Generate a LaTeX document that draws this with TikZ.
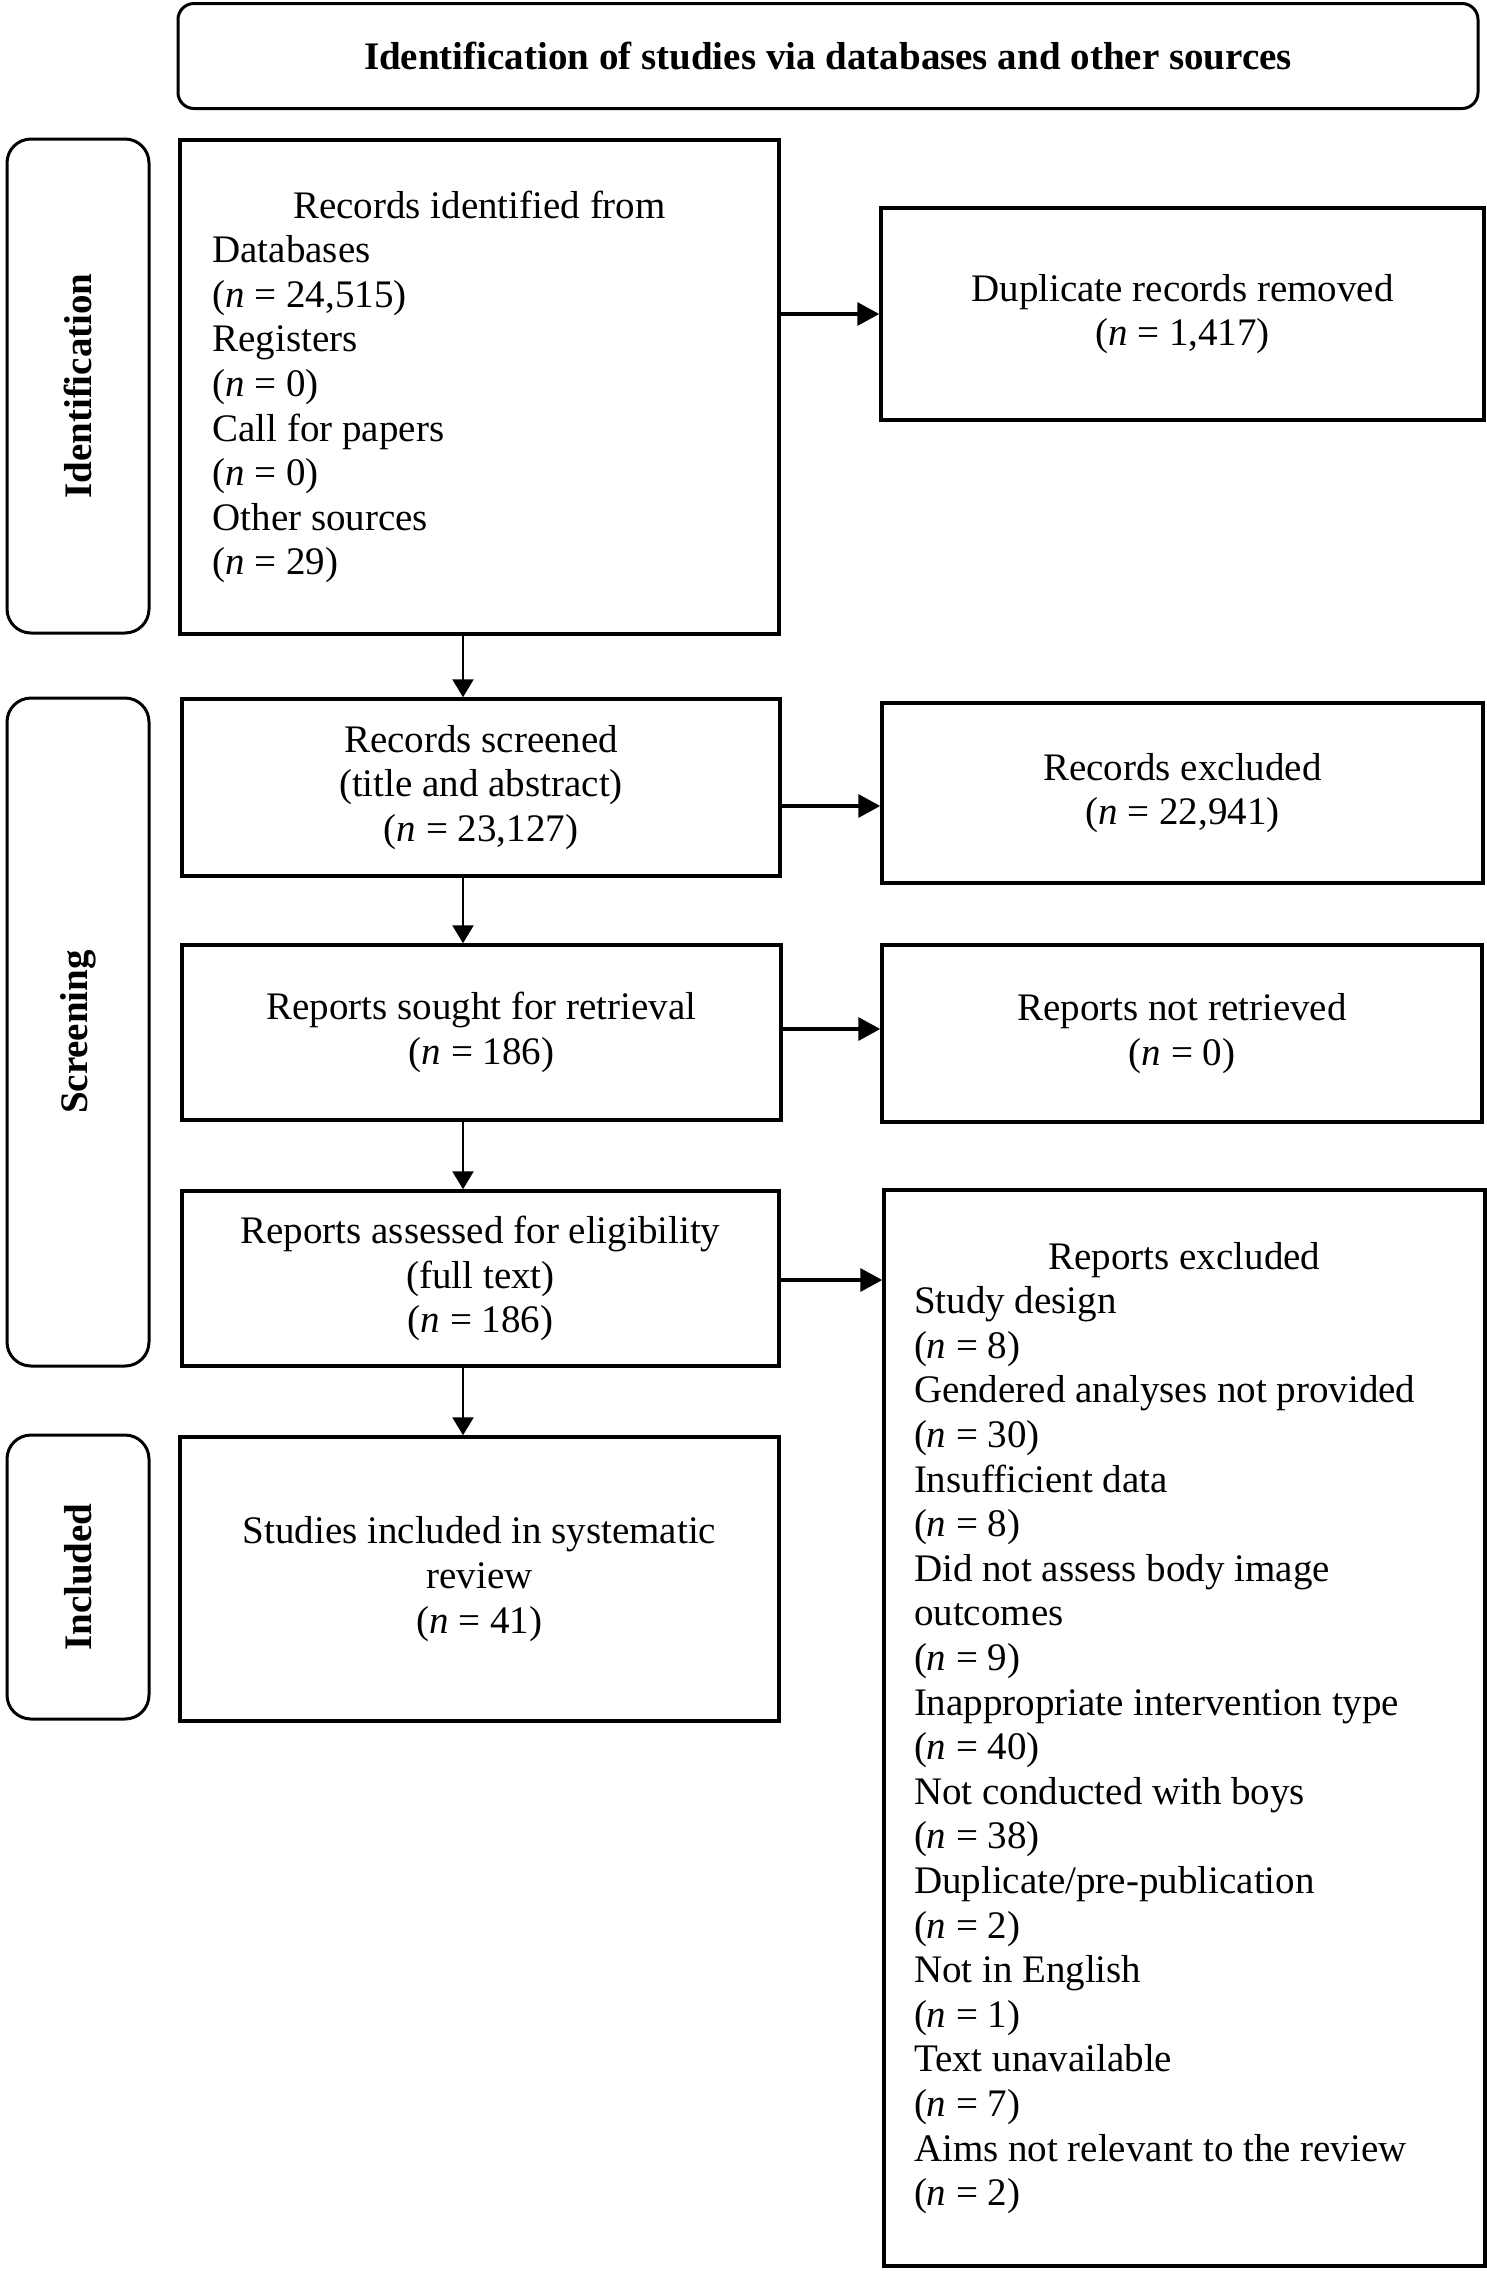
\documentclass[tikz,border=0pt]{standalone}
\usepackage{fontspec}
\setmainfont{Liberation Serif}
\usetikzlibrary{arrows.meta}
\newcommand{\fsz}{\fontsize{19.5pt}{22.3pt}\selectfont}
\newcommand{\nn}[1]{(\textit{n} = #1)}
\tikzset{
  box/.style={draw, line width=1.75pt, inner sep=0pt, align=center, font=\fsz},
  lab/.style={draw, line width=1.5pt, rounded corners=12pt, inner sep=0pt, minimum width=71pt},
  labtext/.style={rotate=90, font=\fsz\bfseries},
  harr/.style={-{Triangle[length=11pt,width=11.5pt]}, line width=1.8pt},
  varr/.style={-{Triangle[length=9pt,width=10.5pt]}, line width=1.2pt},
}
\begin{document}
\begin{tikzpicture}[x=0.5pt,y=-0.5pt]
\useasboundingbox (0,0) rectangle (1487,2272);
% title
\node[draw, line width=1.5pt, rounded corners=8pt, minimum width=650pt, minimum height=52.5pt, font=\fsz\bfseries] (title) at (828,56) {Identification of studies via databases and other sources};
% side labels
\node[lab, minimum height=247pt] (labI) at (78,386) {};
\node[labtext] (labIt) at (labI.center) {Identification};
\node[lab, minimum height=334pt] (labS) at (78,1032) {};
\node[labtext] (labSt) at (labS.center) {Screening};
\node[lab, minimum height=142pt] (labN) at (78,1577) {};
\node[labtext] (labNt) at (labN.center) {Included};
% left column
\node[box, minimum width=299.5pt, minimum height=247pt, text width=267pt, align=flush left] (b1) at (479.5,387)
  {\spaceskip=0pt\xspaceskip=0pt\relax\makebox[267pt]{Records identified from}\\ Databases\\ \nn{24,515}\\ Registers\\ \nn{0}\\ Call for papers\\ \nn{0}\\ Other sources\\ \nn{29}};
\node[box, minimum width=299pt, minimum height=88.5pt] (scr) at (481,787.5)
  {Records screened\\ (title and abstract)\\ \nn{23,127}};
\node[box, minimum width=299.5pt, minimum height=87.5pt] (sought) at (481.5,1032.5)
  {Reports sought for retrieval\\ \nn{186}};
\node[box, minimum width=298.5pt, minimum height=87.5pt] (assessed) at (480.5,1278.5)
  {Reports assessed for eligibility\\ (full text)\\ \nn{186}};
\node[box, minimum width=299.5pt, minimum height=142pt] (studies) at (479.5,1579)
  {Studies included in systematic\\ review\\ \nn{41}};
% right column
\node[box, minimum width=301.5pt, minimum height=106pt] (dup) at (1182.5,314)
  {Duplicate records removed\\ \nn{1,417}};
\node[box, minimum width=300.5pt, minimum height=90pt] (exc) at (1182.5,793)
  {Records excluded\\ \nn{22,941}};
\node[box, minimum width=300pt, minimum height=88.5pt] (nret) at (1182,1033.5)
  {Reports not retrieved\\ \nn{0}};
\node[box, minimum width=300.5pt, minimum height=538pt, text width=270.5pt, align=flush left] (rexc) at (1184.5,1728)
  {\spaceskip=0pt\xspaceskip=0pt\relax\makebox[270.5pt]{Reports excluded}\\ Study design\\ \nn{8}\\ Gendered analyses not provided\\ \nn{30}\\ Insufficient data\\ \nn{8}\\ Did not assess body image\\ outcomes\\ \nn{9}\\ Inappropriate intervention type\\ \nn{40}\\ Not conducted with boys\\ \nn{38}\\ Duplicate/pre-publication\\ \nn{2}\\ Not in English\\ \nn{1}\\ Text unavailable\\ \nn{7}\\ Aims not relevant to the review\\ \nn{2}};
% connectors
\coordinate (vx) at (463,0);
\coordinate (h1) at (0,314);
\coordinate (h2) at (0,806);
\coordinate (h3) at (0,1029);
\coordinate (h4) at (0,1280);
\draw[varr] (b1.south -| vx) -- (scr.north -| vx);
\draw[varr] (scr.south -| vx) -- (sought.north -| vx);
\draw[varr] (sought.south -| vx) -- (assessed.north -| vx);
\draw[varr] (assessed.south -| vx) -- (studies.north -| vx);
\draw[harr] (b1.east |- h1) -- (dup.west |- h1);
\draw[harr] (scr.east |- h2) -- (exc.west |- h2);
\draw[harr] (sought.east |- h3) -- (nret.west |- h3);
\draw[harr] (assessed.east |- h4) -- (rexc.west |- h4);
\end{tikzpicture}
\end{document}
